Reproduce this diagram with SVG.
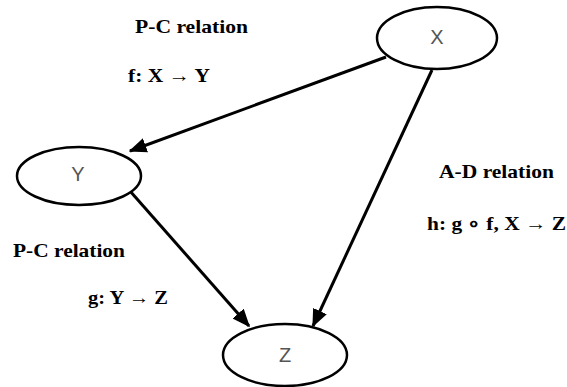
<svg xmlns="http://www.w3.org/2000/svg" width="567" height="387" viewBox="0 0 567 387">
<style>
.node{fill:#fff;stroke:#000;stroke-width:2.5}
.nl{font-family:"Liberation Sans",Arial,sans-serif;font-size:20px;fill:#555;text-anchor:middle}
.lab{font-family:"Liberation Serif","Times New Roman",serif;font-size:19px;font-weight:bold;fill:#000}
.edge{stroke:#000;stroke-width:3;fill:none;marker-end:url(#ah)}
</style>
<defs>
<marker id="ah" viewBox="0 0 12 10" refX="11" refY="5" markerWidth="6" markerHeight="5" markerUnits="strokeWidth" orient="auto">
<path d="M0,0 L12,5 L0,10 z" fill="#000"/>
</marker>
</defs>
<rect width="567" height="387" fill="#fff"/>
<g id="connectors">
<path class="edge" d="M386,57 L130,151"/>
<path class="edge" d="M432,70 L313,326"/>
<path class="edge" d="M130,191 L249,326"/>
</g>
<g id="nodeX"><ellipse class="node" cx="437" cy="38" rx="60" ry="31"/><text class="nl" x="437" y="44">X</text></g>
<g id="nodeY"><ellipse class="node" cx="79" cy="176" rx="62" ry="29"/><text class="nl" x="78" y="181">Y</text></g>
<g id="nodeZ"><ellipse class="node" cx="285" cy="355" rx="62" ry="31"/><text class="nl" x="285" y="362">Z</text></g>
<g id="labels">
<text class="lab" x="135" y="33" textLength="113" lengthAdjust="spacingAndGlyphs">P-C relation</text>
<text class="lab" x="128" y="82" textLength="82" lengthAdjust="spacingAndGlyphs">f: X → Y</text>
<text class="lab" x="439" y="178" textLength="115" lengthAdjust="spacingAndGlyphs">A-D relation</text>
<text class="lab" x="427" y="230" textLength="139" lengthAdjust="spacingAndGlyphs">h: g ∘ f, X → Z</text>
<text class="lab" x="13" y="257" textLength="112" lengthAdjust="spacingAndGlyphs">P-C relation</text>
<text class="lab" x="88" y="304" textLength="80" lengthAdjust="spacingAndGlyphs">g: Y → Z</text>
</g>
</svg>
